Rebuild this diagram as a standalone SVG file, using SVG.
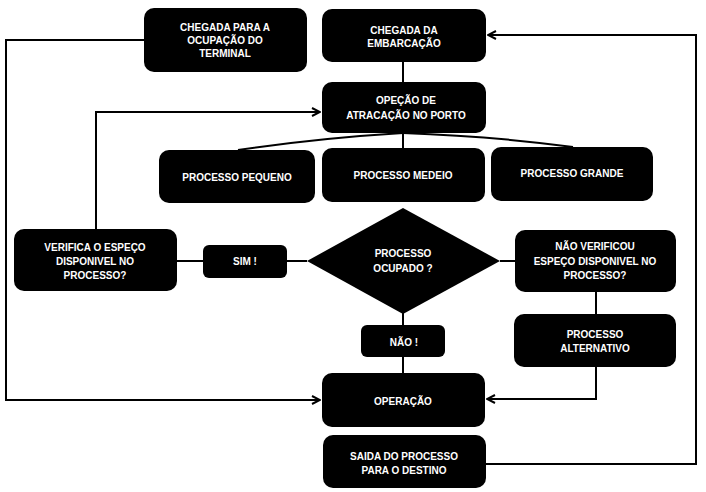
<svg xmlns="http://www.w3.org/2000/svg" width="706" height="492" viewBox="0 0 706 492">
<defs>
<style>
.n{fill:#000;}
.t{fill:#fff;font-family:"Liberation Sans",Arial,sans-serif;font-weight:bold;font-size:10px;text-anchor:middle;}
.c{fill:none;stroke:#000;stroke-width:2;}
</style>
<marker id="ah" markerWidth="10" markerHeight="10" refX="9" refY="5" orient="auto" markerUnits="userSpaceOnUse">
<path d="M1,1 L9,5 L1,9" fill="none" stroke="#000" stroke-width="2"/>
</marker>
</defs>
<rect width="706" height="492" fill="#fff"/>
<g id="connectors">
<path class="c" d="M144,40 H6 V400 H320" marker-end="url(#ah)"/>
<path class="c" d="M96,229 V112 H320" marker-end="url(#ah)"/>
<path class="c" d="M403,62 V82"/>
<path class="c" d="M403,133 Q320,138 238,150"/>
<path class="c" d="M403,133 V148"/>
<path class="c" d="M403,133 Q490,136 573,147"/>
<path class="c" d="M177,261 H203"/>
<path class="c" d="M287,261 H307"/>
<path class="c" d="M500,261 H515"/>
<path class="c" d="M403,313 V325"/>
<path class="c" d="M403,357 V373"/>
<path class="c" d="M596,292 V314"/>
<path class="c" d="M596,367 V399 H487" marker-end="url(#ah)"/>
<path class="c" d="M486,464 H696 V35 H488" marker-end="url(#ah)"/>
</g>
<g id="n1"><rect class="n" x="144" y="8" width="163" height="64" rx="10"/>
<text class="t" x="225" y="31">CHEGADA PARA A</text><text class="t" x="225" y="44">OCUPAÇÃO DO</text><text class="t" x="225" y="57">TERMINAL</text></g>
<g id="n2"><rect class="n" x="322" y="9" width="164" height="53" rx="10"/>
<text class="t" x="404" y="34">CHEGADA DA</text><text class="t" x="404" y="47">EMBARCAÇÃO</text></g>
<g id="n3"><rect class="n" x="322" y="82" width="164" height="51" rx="10"/>
<text class="t" x="406" y="104">OPEÇÃO  DE</text><text class="t" x="406" y="119">ATRACAÇÃO NO PORTO</text></g>
<g id="n4"><rect class="n" x="159" y="150" width="156" height="53" rx="10"/>
<text class="t" x="237" y="181">PROCESSO PEQUENO</text></g>
<g id="n5"><rect class="n" x="322" y="148" width="163" height="54" rx="10"/>
<text class="t" x="403" y="179">PROCESSO  MEDEIO</text></g>
<g id="n6"><rect class="n" x="491" y="147" width="162" height="54" rx="10"/>
<text class="t" x="572" y="177">PROCESSO  GRANDE</text></g>
<g id="n7"><rect class="n" x="14" y="229" width="163" height="62" rx="10"/>
<text class="t" x="95" y="251">VERIFICA  O  ESPEÇO</text><text class="t" x="95" y="265">DISPONIVEL NO</text><text class="t" x="95" y="279">PROCESSO?</text></g>
<g id="n8"><rect class="n" x="203" y="245" width="84" height="33" rx="6"/>
<text class="t" x="245" y="265">SIM !</text></g>
<g id="n9"><polygon class="n" points="403,208 500,261 403,314 307,261"/>
<text class="t" x="403" y="257">PROCESSO</text><text class="t" x="403" y="272">OCUPADO ?</text></g>
<g id="n10"><rect class="n" x="515" y="230" width="161" height="62" rx="10"/>
<text class="t" x="595" y="250">NÃO  VERIFICOU</text><text class="t" x="595" y="265">ESPEÇO DISPONIVEL NO</text><text class="t" x="595" y="279">PROCESSO?</text></g>
<g id="n11"><rect class="n" x="514" y="314" width="162" height="53" rx="10"/>
<text class="t" x="595" y="338">PROCESSO</text><text class="t" x="595" y="352">ALTERNATIVO</text></g>
<g id="n12"><rect class="n" x="361" y="325" width="84" height="32" rx="6"/>
<text class="t" x="404" y="346">NÃO !</text></g>
<g id="n13"><rect class="n" x="322" y="373" width="163" height="54" rx="10"/>
<text class="t" x="403" y="405">OPERAÇÃO</text></g>
<g id="n14"><rect class="n" x="323" y="435" width="163" height="53" rx="10"/>
<text class="t" x="404" y="460">SAIDA DO PROCESSO</text><text class="t" x="404" y="474">PARA  O  DESTINO</text></g>
</svg>
